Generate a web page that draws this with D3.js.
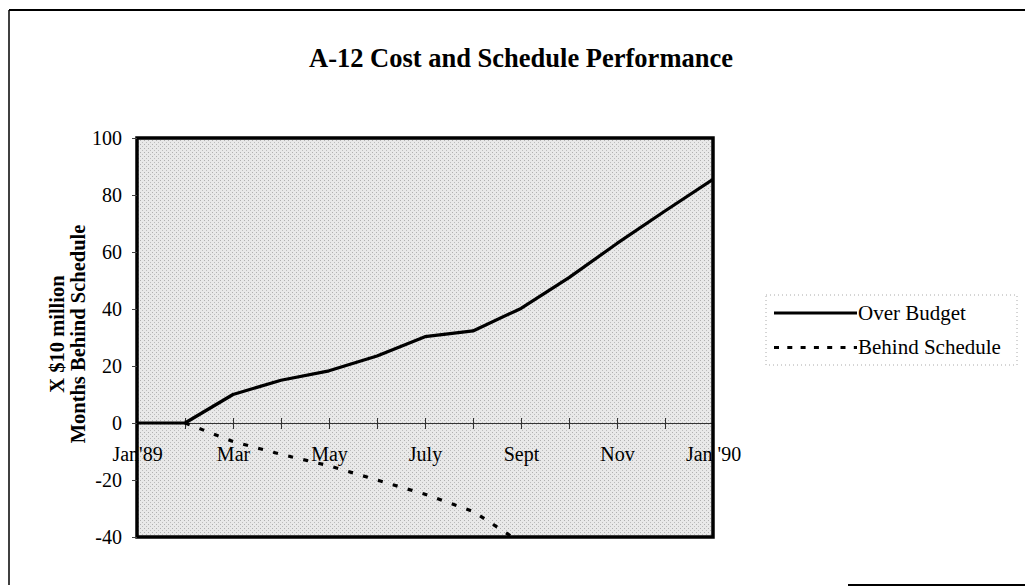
<!DOCTYPE html>
<html>
<head>
<meta charset="utf-8">
<script src="https://cdn.jsdelivr.net/npm/d3@7"></script>
<style>
	html, body { margin: 0; padding: 0; background: #fff; }
	svg { display: block; }
</style>
</head>
<body>
<div id="chart"></div>
<script>
var months = ["Jan'89", "Feb", "Mar", "Apr", "May", "Jun", "July", "Aug", "Sept", "Oct", "Nov", "Dec", "Jan '90"];
var shownLabels = ["Jan'89", "Mar", "May", "July", "Sept", "Nov", "Jan '90"];
var overBudget = [0, 0, 10, 15, 18.3, 23.5, 30.3, 32.3, 40.2, 51, 63, 74.4, 85.5];
var behindSchedule = [null, 0, -6.5, -11, -15, -20, -25, -31, -42, null, null, null, null];
var yTicks = [-40, -20, 0, 20, 40, 60, 80, 100];
var seriesNames = ["Over Budget", "Behind Schedule"];
var title = "A-12 Cost and Schedule Performance";
var yTitle = ["X $10 million", "Months Behind Schedule"];

var width = 1025,
	height = 587,
	serif = "'Liberation Serif', 'Times New Roman', serif";

var plot = { left: 137, right: 713, top: 138, bottom: 537 };

var svg = d3.select("#chart").append("svg")
	.attr("width", width)
	.attr("height", height);

var defs = svg.append("defs");

// halftone look of the scanned plot area
var pattern = defs.append("pattern")
	.attr("id", "halftone")
	.attr("width", 4)
	.attr("height", 4)
	.attr("patternUnits", "userSpaceOnUse");
pattern.append("rect")
	.attr("width", 4)
	.attr("height", 4)
	.attr("fill", "#e9e9e9");
pattern.append("rect")
	.attr("x", 0).attr("y", 0)
	.attr("width", 1).attr("height", 1)
	.attr("fill", "#b0b0b0");
pattern.append("rect")
	.attr("x", 2).attr("y", 2)
	.attr("width", 1).attr("height", 1)
	.attr("fill", "#bcbcbc");

defs.append("clipPath")
	.attr("id", "plot-clip")
	.append("rect")
	.attr("x", plot.left)
	.attr("y", plot.top)
	.attr("width", plot.right - plot.left)
	.attr("height", plot.bottom - plot.top);

var x = d3.scalePoint()
	.domain(months)
	.range([plot.left, plot.right]);

var y = d3.scaleLinear()
	.domain([-40, 100])
	.range([plot.bottom, plot.top]);

svg.append("rect")
	.attr("x", plot.left)
	.attr("y", plot.top)
	.attr("width", plot.right - plot.left)
	.attr("height", plot.bottom - plot.top)
	.attr("fill", "url(#halftone)");

// month axis sits on the zero line
var xAxis = d3.axisBottom(x)
	.tickSize(6)
	.tickPadding(18)
	.tickFormat(function(d) { return shownLabels.indexOf(d) >= 0 ? d : ""; });

var gx = svg.append("g")
	.attr("transform", "translate(0," + y(0) + ")")
	.call(xAxis);

gx.select(".domain")
	.attr("stroke", "#333")
	.attr("stroke-width", 1.2);
gx.selectAll(".tick line")
	.attr("y1", -5)
	.attr("y2", 6)
	.attr("stroke", "#333");
gx.selectAll(".tick text")
	.attr("fill", "#000")
	.style("font-family", serif)
	.style("font-size", "20px");

var line = d3.line()
	.defined(function(d) { return d != null; })
	.x(function(d, i) { return x(months[i]); })
	.y(function(d) { return y(d); });

var series = svg.append("g")
	.attr("clip-path", "url(#plot-clip)");

series.append("path")
	.datum(overBudget)
	.attr("d", line)
	.attr("fill", "none")
	.attr("stroke", "#000")
	.attr("stroke-width", 3.2)
	.attr("stroke-linejoin", "round");

series.append("path")
	.datum(behindSchedule)
	.attr("d", line)
	.attr("fill", "none")
	.attr("stroke", "#000")
	.attr("stroke-width", 3.2)
	.attr("stroke-dasharray", "5,10.5");

// heavy plot border
svg.append("rect")
	.attr("x", plot.left)
	.attr("y", plot.top)
	.attr("width", plot.right - plot.left)
	.attr("height", plot.bottom - plot.top)
	.attr("fill", "none")
	.attr("stroke", "#000")
	.attr("stroke-width", 3.5);

// plain hyphen for negatives, as in the original
var yAxis = d3.axisLeft(y)
	.tickValues(yTicks)
	.tickSize(5)
	.tickPadding(10)
	.tickFormat(function(d) { return String(d); });

var gy = svg.append("g")
	.attr("transform", "translate(" + plot.left + ",0)")
	.call(yAxis);

gy.select(".domain").remove();
gy.selectAll(".tick line").attr("stroke", "#444");
gy.selectAll(".tick text")
	.attr("fill", "#000")
	.style("font-family", serif)
	.style("font-size", "20px");

// axis title, two rotated lines
var yTitleText = svg.append("text")
	.attr("transform", "translate(64,334) rotate(-90)")
	.attr("text-anchor", "middle")
	.style("font-family", serif)
	.style("font-weight", "bold")
	.style("font-size", "20.5px");
yTitle.forEach(function(t, i) {
	yTitleText.append("tspan")
		.attr("x", 0)
		.attr("dy", i === 0 ? 0 : 20.5)
		.text(t);
});

svg.append("text")
	.attr("x", 521)
	.attr("y", 67)
	.attr("text-anchor", "middle")
	.style("font-family", serif)
	.style("font-weight", "bold")
	.style("font-size", "26.5px")
	.text(title);

// legend
var legend = svg.append("g");

legend.append("rect")
	.attr("x", 766)
	.attr("y", 295)
	.attr("width", 251)
	.attr("height", 70)
	.attr("fill", "none")
	.attr("stroke", "#aaa")
	.attr("stroke-width", 1)
	.attr("stroke-dasharray", "1,3");

seriesNames.forEach(function(name, i) {
	var ly = 313 + i * 34.5;
	legend.append("line")
		.attr("x1", 774)
		.attr("x2", 857)
		.attr("y1", ly)
		.attr("y2", ly)
		.attr("stroke", "#000")
		.attr("stroke-width", 3.2)
		.attr("stroke-dasharray", i === 0 ? null : "5,8.3");
	legend.append("text")
		.attr("x", 858)
		.attr("y", ly + 6.5)
		.style("font-family", serif)
		.style("font-size", "21px")
		.text(name);
});

// scanned page frame
var frame = svg.append("g")
	.attr("stroke", "#000")
	.attr("fill", "none");
frame.append("line")
	.attr("x1", 9).attr("y1", 10)
	.attr("x2", 1025).attr("y2", 10)
	.attr("stroke-width", 2);
frame.append("line")
	.attr("x1", 9).attr("y1", 10)
	.attr("x2", 9).attr("y2", 585)
	.attr("stroke-width", 1.5);
frame.append("line")
	.attr("x1", 848).attr("y1", 585)
	.attr("x2", 1025).attr("y2", 585)
	.attr("stroke-width", 2);
</script>
</body>
</html>
